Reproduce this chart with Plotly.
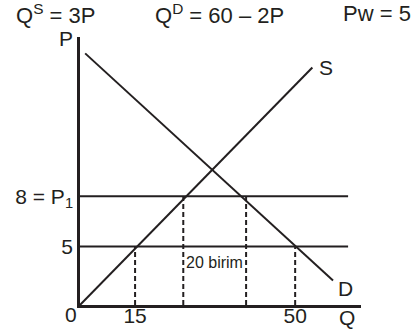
import plotly.graph_objects as go

# the textbook figure is not drawn to scale, so the values below are
# read along the drawing's own axes (Q across, P up)
supply_q = [0, 54]
supply_p = [0, 20.3]
demand_q = [1.2, 58.8]
demand_p = [21.5, 2.1]

price_levels = [5, 9.3]                      # Pw = 5 and P1 = 8
price_labels = ["5", "8 = P<sub>1</sub>"]
level_end_q = 62.3

import_q = [12.8, 50]                        # Qs and Qd at the world price
import_labels = ["15", "50"]
quota_q = [24.0, 38.6]                       # Qs and Qd at P1
quota_label = "20 birim"

equations = ["Q<sup>S</sup> = 3P", "Q<sup>D</sup> = 60 – 2P", "Pw = 5"]

FONT = "Liberation Sans, Arial, sans-serif"
INK = "#231f20"

fig = go.Figure()

# price levels
for p in price_levels:
    fig.add_trace(go.Scatter(x=[0, level_end_q], y=[p, p], mode="lines",
                             line=dict(color=INK, width=2), hoverinfo="skip"))

# dashed drop lines
dx, dy = [], []
for q in import_q:
    dx += [q, q, None]
    dy += [0, price_levels[0], None]
for q in quota_q:
    dx += [q, q, None]
    dy += [0, price_levels[1], None]
fig.add_trace(go.Scatter(x=dx, y=dy, mode="lines",
                         line=dict(color=INK, width=2, dash="5px,3px"),
                         hoverinfo="skip"))

# supply and demand
fig.add_trace(go.Scatter(x=supply_q, y=supply_p, mode="lines",
                         line=dict(color=INK, width=2), hoverinfo="skip"))
fig.add_trace(go.Scatter(x=demand_q, y=demand_p, mode="lines",
                         line=dict(color=INK, width=2), hoverinfo="skip"))

ann = []
lbl = dict(size=21, color=INK, family=FONT)
ann.append(dict(x=supply_q[-1], y=supply_p[-1], text="S", xanchor="left",
                xshift=5, showarrow=False, font=lbl))
ann.append(dict(x=demand_q[-1], y=demand_p[-1], text="D", xanchor="left",
                yanchor="top", xshift=3, yshift=5, showarrow=False, font=lbl))
ann.append(dict(x=sum(quota_q) / 2, y=price_levels[0], text=quota_label,
                yanchor="top", yshift=-6, showarrow=False,
                font=dict(size=16, color=INK, family=FONT)))
ann.append(dict(x=-0.032, y=-0.037, xref="paper", yref="paper", text="0",
                xanchor="center", yanchor="middle", showarrow=False, font=lbl))
ann.append(dict(x=0.95, y=-0.045, xref="paper", yref="paper", text="Q",
                xanchor="center", yanchor="middle", showarrow=False, font=lbl))
ann.append(dict(x=-0.05, y=0.996, xref="paper", yref="paper", text="P",
                xanchor="center", yanchor="middle", showarrow=False, font=lbl))

# equations on top
eq_x = [-0.235, 0.26, 1.185]
eq_anchor = ["left", "left", "right"]
for t, x, a in zip(equations, eq_x, eq_anchor):
    ann.append(dict(x=x, y=1.086, xref="paper", yref="paper", text=t,
                    xanchor=a, yanchor="middle", showarrow=False,
                    font=dict(size=22, color=INK, family=FONT)))

fig.update_layout(
    template="none",
    width=417, height=331,
    margin=dict(l=80, r=56, t=37, b=26),
    paper_bgcolor="white", plot_bgcolor="white",
    showlegend=False,
    annotations=ann,
    font=dict(family=FONT, color=INK, size=21),
    xaxis=dict(range=[0, 65.3], showgrid=False, zeroline=False,
               showline=True, linecolor=INK, linewidth=2.5, automargin=False,
               tickvals=import_q, ticktext=import_labels, ticks="",
               ticklabelstandoff=-10),
    yaxis=dict(range=[0, 22.9], showgrid=False, zeroline=False,
               showline=True, linecolor=INK, linewidth=2.5, automargin=False,
               tickvals=price_levels, ticktext=price_labels, ticks=""),
)

# the page body has a default 8px margin, drop it so the chart fills the window
fig.write_html("out.html", config={"displayModeBar": False},
               post_script="document.body.style.margin = '0';")
